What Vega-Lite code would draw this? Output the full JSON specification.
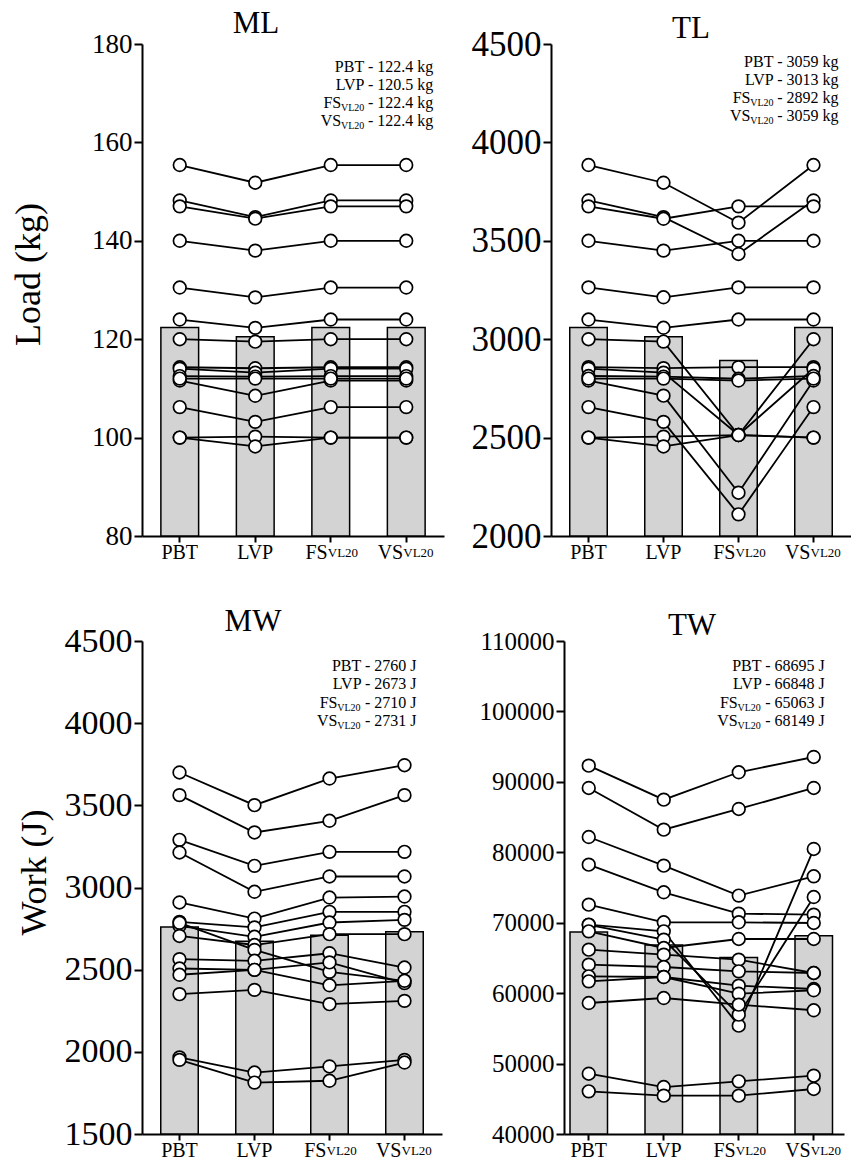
{
"$schema": "https://vega.github.io/schema/vega-lite/v6.json",
"padding": {"left": 10, "top": 8, "right": 0, "bottom": 0},
"config": {
 "view": {"stroke": null},
 "font": "Liberation Serif",
 "axis": {"domainColor": "black", "tickColor": "black", "labelColor": "black", "titleColor": "black", "grid": false, "domainWidth": 2, "tickWidth": 2, "labelFont": "Liberation Serif", "titleFont": "Liberation Serif", "titleFontWeight": "normal", "labelOverlap": false, "labelBound": false, "labelFlush": false},
 "title": {"font": "Liberation Serif", "fontWeight": "normal", "fontSize": 31, "color": "black", "frame": "group"},
 "text": {"font": "Liberation Serif", "color": "black"},
 "line": {"color": "black", "strokeWidth": 1.8},
 "point": {"filled": true, "fill": "white", "stroke": "black", "strokeWidth": 1.7, "size": 160, "opacity": 1}
},
"datasets": {
 "means": [
  {"p":"ML","c":"PBT","m":122.4},{"p":"ML","c":"LVP","m":120.5},{"p":"ML","c":"FS","m":122.4},{"p":"ML","c":"VS","m":122.4},
  {"p":"TL","c":"PBT","m":3059},{"p":"TL","c":"LVP","m":3013},{"p":"TL","c":"FS","m":2892},{"p":"TL","c":"VS","m":3059},
  {"p":"MW","c":"PBT","m":2760},{"p":"MW","c":"LVP","m":2673},{"p":"MW","c":"FS","m":2710},{"p":"MW","c":"VS","m":2731},
  {"p":"TW","c":"PBT","m":68695},{"p":"TW","c":"LVP","m":66848},{"p":"TW","c":"FS","m":65063},{"p":"TW","c":"VS","m":68149}
 ],
 "notes": [
  {"p":"ML","l":1,"k":"full","t":"PBT - 122.4 kg"},{"p":"ML","l":2,"k":"full","t":"LVP - 120.5 kg"},
  {"p":"ML","l":3,"k":"main","t":"FS"},{"p":"ML","l":3,"k":"sub","t":"VL20"},{"p":"ML","l":3,"k":"rest","t":"- 122.4 kg"},
  {"p":"ML","l":4,"k":"main","t":"VS"},{"p":"ML","l":4,"k":"sub","t":"VL20"},{"p":"ML","l":4,"k":"rest","t":"- 122.4 kg"},
  {"p":"TL","l":1,"k":"full","t":"PBT - 3059 kg"},{"p":"TL","l":2,"k":"full","t":"LVP - 3013 kg"},
  {"p":"TL","l":3,"k":"main","t":"FS"},{"p":"TL","l":3,"k":"sub","t":"VL20"},{"p":"TL","l":3,"k":"rest","t":"- 2892 kg"},
  {"p":"TL","l":4,"k":"main","t":"VS"},{"p":"TL","l":4,"k":"sub","t":"VL20"},{"p":"TL","l":4,"k":"rest","t":"- 3059 kg"},
  {"p":"MW","l":1,"k":"full","t":"PBT - 2760 J"},{"p":"MW","l":2,"k":"full","t":"LVP - 2673 J"},
  {"p":"MW","l":3,"k":"main","t":"FS"},{"p":"MW","l":3,"k":"sub","t":"VL20"},{"p":"MW","l":3,"k":"rest","t":"- 2710 J"},
  {"p":"MW","l":4,"k":"main","t":"VS"},{"p":"MW","l":4,"k":"sub","t":"VL20"},{"p":"MW","l":4,"k":"rest","t":"- 2731 J"},
  {"p":"TW","l":1,"k":"full","t":"PBT - 68695 J"},{"p":"TW","l":2,"k":"full","t":"LVP - 66848 J"},
  {"p":"TW","l":3,"k":"main","t":"FS"},{"p":"TW","l":3,"k":"sub","t":"VL20"},{"p":"TW","l":3,"k":"rest","t":"- 65063 J"},
  {"p":"TW","l":4,"k":"main","t":"VS"},{"p":"TW","l":4,"k":"sub","t":"VL20"},{"p":"TW","l":4,"k":"rest","t":"- 68149 J"}
 ],
 "subj": [
  {"p":"ML","s":1,"c":"PBT","v":155.4},{"p":"ML","s":1,"c":"LVP","v":151.8},{"p":"ML","s":1,"c":"FS","v":155.4},{"p":"ML","s":1,"c":"VS","v":155.4},
  {"p":"ML","s":2,"c":"PBT","v":148.2},{"p":"ML","s":2,"c":"LVP","v":144.8},{"p":"ML","s":2,"c":"FS","v":148.2},{"p":"ML","s":2,"c":"VS","v":148.2},
  {"p":"ML","s":3,"c":"PBT","v":147.0},{"p":"ML","s":3,"c":"LVP","v":144.5},{"p":"ML","s":3,"c":"FS","v":147.0},{"p":"ML","s":3,"c":"VS","v":147.0},
  {"p":"ML","s":4,"c":"PBT","v":140.0},{"p":"ML","s":4,"c":"LVP","v":138.0},{"p":"ML","s":4,"c":"FS","v":140.0},{"p":"ML","s":4,"c":"VS","v":140.0},
  {"p":"ML","s":5,"c":"PBT","v":130.5},{"p":"ML","s":5,"c":"LVP","v":128.5},{"p":"ML","s":5,"c":"FS","v":130.5},{"p":"ML","s":5,"c":"VS","v":130.5},
  {"p":"ML","s":6,"c":"PBT","v":124.0},{"p":"ML","s":6,"c":"LVP","v":122.3},{"p":"ML","s":6,"c":"FS","v":124.0},{"p":"ML","s":6,"c":"VS","v":124.0},
  {"p":"ML","s":7,"c":"PBT","v":120.0},{"p":"ML","s":7,"c":"LVP","v":119.5},{"p":"ML","s":7,"c":"FS","v":120.0},{"p":"ML","s":7,"c":"VS","v":120.0},
  {"p":"ML","s":8,"c":"PBT","v":114.3},{"p":"ML","s":8,"c":"LVP","v":114.1},{"p":"ML","s":8,"c":"FS","v":114.3},{"p":"ML","s":8,"c":"VS","v":114.3},
  {"p":"ML","s":9,"c":"PBT","v":114.0},{"p":"ML","s":9,"c":"LVP","v":113.2},{"p":"ML","s":9,"c":"FS","v":114.0},{"p":"ML","s":9,"c":"VS","v":114.0},
  {"p":"ML","s":10,"c":"PBT","v":112.5},{"p":"ML","s":10,"c":"LVP","v":112.4},{"p":"ML","s":10,"c":"FS","v":112.5},{"p":"ML","s":10,"c":"VS","v":112.5},
  {"p":"ML","s":11,"c":"PBT","v":111.6},{"p":"ML","s":11,"c":"LVP","v":108.5},{"p":"ML","s":11,"c":"FS","v":111.6},{"p":"ML","s":11,"c":"VS","v":111.6},
  {"p":"ML","s":12,"c":"PBT","v":106.2},{"p":"ML","s":12,"c":"LVP","v":103.2},{"p":"ML","s":12,"c":"FS","v":106.2},{"p":"ML","s":12,"c":"VS","v":106.2},
  {"p":"ML","s":13,"c":"PBT","v":100.0},{"p":"ML","s":13,"c":"LVP","v":100.2},{"p":"ML","s":13,"c":"FS","v":100.0},{"p":"ML","s":13,"c":"VS","v":100.0},
  {"p":"ML","s":14,"c":"PBT","v":100.0},{"p":"ML","s":14,"c":"LVP","v":98.2},{"p":"ML","s":14,"c":"FS","v":100.0},{"p":"ML","s":14,"c":"VS","v":100.0},
  {"p":"ML","s":15,"c":"PBT","v":112.0},{"p":"ML","s":15,"c":"LVP","v":112.0},{"p":"ML","s":15,"c":"FS","v":112.0},{"p":"ML","s":15,"c":"VS","v":112.0},

  {"p":"TL","s":1,"c":"PBT","v":3885},{"p":"TL","s":1,"c":"LVP","v":3795},{"p":"TL","s":1,"c":"FS","v":3592},{"p":"TL","s":1,"c":"VS","v":3885},
  {"p":"TL","s":2,"c":"PBT","v":3705},{"p":"TL","s":2,"c":"LVP","v":3620},{"p":"TL","s":2,"c":"FS","v":3433},{"p":"TL","s":2,"c":"VS","v":3705},
  {"p":"TL","s":3,"c":"PBT","v":3675},{"p":"TL","s":3,"c":"LVP","v":3612},{"p":"TL","s":3,"c":"FS","v":3675},{"p":"TL","s":3,"c":"VS","v":3675},
  {"p":"TL","s":4,"c":"PBT","v":3500},{"p":"TL","s":4,"c":"LVP","v":3450},{"p":"TL","s":4,"c":"FS","v":3500},{"p":"TL","s":4,"c":"VS","v":3500},
  {"p":"TL","s":5,"c":"PBT","v":3263},{"p":"TL","s":5,"c":"LVP","v":3213},{"p":"TL","s":5,"c":"FS","v":3263},{"p":"TL","s":5,"c":"VS","v":3263},
  {"p":"TL","s":6,"c":"PBT","v":3100},{"p":"TL","s":6,"c":"LVP","v":3058},{"p":"TL","s":6,"c":"FS","v":3100},{"p":"TL","s":6,"c":"VS","v":3100},
  {"p":"TL","s":7,"c":"PBT","v":3000},{"p":"TL","s":7,"c":"LVP","v":2988},{"p":"TL","s":7,"c":"FS","v":2513},{"p":"TL","s":7,"c":"VS","v":3000},
  {"p":"TL","s":8,"c":"PBT","v":2858},{"p":"TL","s":8,"c":"LVP","v":2853},{"p":"TL","s":8,"c":"FS","v":2858},{"p":"TL","s":8,"c":"VS","v":2858},
  {"p":"TL","s":9,"c":"PBT","v":2850},{"p":"TL","s":9,"c":"LVP","v":2830},{"p":"TL","s":9,"c":"FS","v":2513},{"p":"TL","s":9,"c":"VS","v":2850},
  {"p":"TL","s":10,"c":"PBT","v":2813},{"p":"TL","s":10,"c":"LVP","v":2810},{"p":"TL","s":10,"c":"FS","v":2799},{"p":"TL","s":10,"c":"VS","v":2813},
  {"p":"TL","s":11,"c":"PBT","v":2790},{"p":"TL","s":11,"c":"LVP","v":2713},{"p":"TL","s":11,"c":"FS","v":2220},{"p":"TL","s":11,"c":"VS","v":2790},
  {"p":"TL","s":12,"c":"PBT","v":2655},{"p":"TL","s":12,"c":"LVP","v":2580},{"p":"TL","s":12,"c":"FS","v":2110},{"p":"TL","s":12,"c":"VS","v":2655},
  {"p":"TL","s":13,"c":"PBT","v":2500},{"p":"TL","s":13,"c":"LVP","v":2505},{"p":"TL","s":13,"c":"FS","v":2513},{"p":"TL","s":13,"c":"VS","v":2500},
  {"p":"TL","s":14,"c":"PBT","v":2500},{"p":"TL","s":14,"c":"LVP","v":2455},{"p":"TL","s":14,"c":"FS","v":2513},{"p":"TL","s":14,"c":"VS","v":2500},
  {"p":"TL","s":15,"c":"PBT","v":2800},{"p":"TL","s":15,"c":"LVP","v":2800},{"p":"TL","s":15,"c":"FS","v":2790},{"p":"TL","s":15,"c":"VS","v":2800},

  {"p":"MW","s":1,"c":"PBT","v":3700},{"p":"MW","s":1,"c":"LVP","v":3501},{"p":"MW","s":1,"c":"FS","v":3663},{"p":"MW","s":1,"c":"VS","v":3744},
  {"p":"MW","s":2,"c":"PBT","v":3562},{"p":"MW","s":2,"c":"LVP","v":3335},{"p":"MW","s":2,"c":"FS","v":3406},{"p":"MW","s":2,"c":"VS","v":3562},
  {"p":"MW","s":3,"c":"PBT","v":3290},{"p":"MW","s":3,"c":"LVP","v":3132},{"p":"MW","s":3,"c":"FS","v":3217},{"p":"MW","s":3,"c":"VS","v":3217},
  {"p":"MW","s":4,"c":"PBT","v":3213},{"p":"MW","s":4,"c":"LVP","v":2974},{"p":"MW","s":4,"c":"FS","v":3067},{"p":"MW","s":4,"c":"VS","v":3067},
  {"p":"MW","s":5,"c":"PBT","v":2909},{"p":"MW","s":5,"c":"LVP","v":2811},{"p":"MW","s":5,"c":"FS","v":2939},{"p":"MW","s":5,"c":"VS","v":2945},
  {"p":"MW","s":6,"c":"PBT","v":2791},{"p":"MW","s":6,"c":"LVP","v":2757},{"p":"MW","s":6,"c":"FS","v":2852},{"p":"MW","s":6,"c":"VS","v":2852},
  {"p":"MW","s":7,"c":"PBT","v":2767},{"p":"MW","s":7,"c":"LVP","v":2700},{"p":"MW","s":7,"c":"FS","v":2787},{"p":"MW","s":7,"c":"VS","v":2803},
  {"p":"MW","s":8,"c":"PBT","v":2705},{"p":"MW","s":8,"c":"LVP","v":2650},{"p":"MW","s":8,"c":"FS","v":2716},{"p":"MW","s":8,"c":"VS","v":2716},
  {"p":"MW","s":9,"c":"PBT","v":2785},{"p":"MW","s":9,"c":"LVP","v":2620},{"p":"MW","s":9,"c":"FS","v":2487},{"p":"MW","s":9,"c":"VS","v":2432},
  {"p":"MW","s":10,"c":"PBT","v":2564},{"p":"MW","s":10,"c":"LVP","v":2554},{"p":"MW","s":10,"c":"FS","v":2600},{"p":"MW","s":10,"c":"VS","v":2513},
  {"p":"MW","s":11,"c":"PBT","v":2507},{"p":"MW","s":11,"c":"LVP","v":2499},{"p":"MW","s":11,"c":"FS","v":2544},{"p":"MW","s":11,"c":"VS","v":2418},
  {"p":"MW","s":12,"c":"PBT","v":2469},{"p":"MW","s":12,"c":"LVP","v":2499},{"p":"MW","s":12,"c":"FS","v":2405},{"p":"MW","s":12,"c":"VS","v":2432},
  {"p":"MW","s":13,"c":"PBT","v":2351},{"p":"MW","s":13,"c":"LVP","v":2377},{"p":"MW","s":13,"c":"FS","v":2290},{"p":"MW","s":13,"c":"VS","v":2310},
  {"p":"MW","s":14,"c":"PBT","v":1966},{"p":"MW","s":14,"c":"LVP","v":1874},{"p":"MW","s":14,"c":"FS","v":1911},{"p":"MW","s":14,"c":"VS","v":1951},
  {"p":"MW","s":15,"c":"PBT","v":1951},{"p":"MW","s":15,"c":"LVP","v":1813},{"p":"MW","s":15,"c":"FS","v":1824},{"p":"MW","s":15,"c":"VS","v":1935},

  {"p":"TW","s":1,"c":"PBT","v":92300},{"p":"TW","s":1,"c":"LVP","v":87470},{"p":"TW","s":1,"c":"FS","v":91360},{"p":"TW","s":1,"c":"VS","v":93530},
  {"p":"TW","s":2,"c":"PBT","v":89130},{"p":"TW","s":2,"c":"LVP","v":83210},{"p":"TW","s":2,"c":"FS","v":86150},{"p":"TW","s":2,"c":"VS","v":89130},
  {"p":"TW","s":3,"c":"PBT","v":82170},{"p":"TW","s":3,"c":"LVP","v":78100},{"p":"TW","s":3,"c":"FS","v":73850},{"p":"TW","s":3,"c":"VS","v":76590},
  {"p":"TW","s":4,"c":"PBT","v":78240},{"p":"TW","s":4,"c":"LVP","v":74320},{"p":"TW","s":4,"c":"FS","v":71290},{"p":"TW","s":4,"c":"VS","v":71140},
  {"p":"TW","s":5,"c":"PBT","v":72560},{"p":"TW","s":5,"c":"LVP","v":70060},{"p":"TW","s":5,"c":"FS","v":70060},{"p":"TW","s":5,"c":"VS","v":69960},
  {"p":"TW","s":6,"c":"PBT","v":69720},{"p":"TW","s":6,"c":"LVP","v":68780},{"p":"TW","s":6,"c":"FS","v":55380},{"p":"TW","s":6,"c":"VS","v":80470},
  {"p":"TW","s":7,"c":"PBT","v":69700},{"p":"TW","s":7,"c":"LVP","v":67600},{"p":"TW","s":7,"c":"FS","v":56940},{"p":"TW","s":7,"c":"VS","v":73650},
  {"p":"TW","s":8,"c":"PBT","v":68780},{"p":"TW","s":8,"c":"LVP","v":66410},{"p":"TW","s":8,"c":"FS","v":67690},{"p":"TW","s":8,"c":"VS","v":67690},
  {"p":"TW","s":9,"c":"PBT","v":66170},{"p":"TW","s":9,"c":"LVP","v":65460},{"p":"TW","s":9,"c":"FS","v":64750},{"p":"TW","s":9,"c":"VS","v":62860},
  {"p":"TW","s":10,"c":"PBT","v":64040},{"p":"TW","s":10,"c":"LVP","v":63710},{"p":"TW","s":10,"c":"FS","v":63100},{"p":"TW","s":10,"c":"VS","v":62860},
  {"p":"TW","s":11,"c":"PBT","v":62390},{"p":"TW","s":11,"c":"LVP","v":62290},{"p":"TW","s":11,"c":"FS","v":61060},{"p":"TW","s":11,"c":"VS","v":60590},
  {"p":"TW","s":12,"c":"PBT","v":61680},{"p":"TW","s":12,"c":"LVP","v":62290},{"p":"TW","s":12,"c":"FS","v":59920},{"p":"TW","s":12,"c":"VS","v":60410},
  {"p":"TW","s":13,"c":"PBT","v":58600},{"p":"TW","s":13,"c":"LVP","v":59310},{"p":"TW","s":13,"c":"FS","v":58360},{"p":"TW","s":13,"c":"VS","v":57570},
  {"p":"TW","s":14,"c":"PBT","v":48560},{"p":"TW","s":14,"c":"LVP","v":46670},{"p":"TW","s":14,"c":"FS","v":47480},{"p":"TW","s":14,"c":"VS","v":48280},
  {"p":"TW","s":15,"c":"PBT","v":46060},{"p":"TW","s":15,"c":"LVP","v":45440},{"p":"TW","s":15,"c":"FS","v":45440},{"p":"TW","s":15,"c":"VS","v":46390}
 ]
},
"vconcat": [
 {"hconcat": [
  {"width": 302, "height": 492,
   "title": {"text": "ML", "offset": -10, "dx": -37},
   "resolve": {"scale": {"y": "independent"}, "axis": {"x": "independent", "y": "independent"}},
   "layer": [
    {"data": {"name": "means"}, "transform": [{"filter": "datum.p === 'ML'"}],
     "mark": {"type": "bar", "fill": "#d3d3d3", "stroke": "black", "strokeWidth": 1.5},
     "encoding": {
      "x": {"field": "c", "type": "nominal", "scale": {"domain": ["PBT","LVP","FS","VS"], "paddingInner": 0.5, "paddingOuter": 0.25},
            "axis": {"orient": "bottom", "title": null, "labelAngle": 0, "labelFontSize": 20, "tickSize": 6, "labelPadding": 0,
                     "labelAlign": {"condition": {"test": "datum.value === 'FS' || datum.value === 'VS'", "value": "right"}, "value": "center"},
                     "labelOffset": {"condition": {"test": "datum.value === 'FS' || datum.value === 'VS'", "value": -3}, "value": 0}}},
      "y": {"field": "m", "type": "quantitative", "scale": {"domain": [80, 180], "nice": false, "zero": false, "clamp": true},
            "axis": {"values": [80,100,120,140,160,180], "title": "Load (kg)", "titleFontSize": 36, "titlePadding": 44, "titleY": 230, "labelFontSize": 27, "tickSize": 8, "labelPadding": 2}}
     }},
    {"data": {"name": "subj"}, "transform": [{"filter": "datum.p === 'ML'"}],
     "mark": {"type": "line"},
     "encoding": {
      "x": {"field": "c", "type": "nominal", "axis": {"orient": "bottom", "title": null, "domain": false, "ticks": false, "labelAngle": 0, "labelFontSize": 13, "labelPadding": 10, "labelAlign": "left", "labelOffset": -3, "labelExpr": "datum.value === 'FS' || datum.value === 'VS' ? 'VL20' : ''"}},
      "y": {"field": "v", "type": "quantitative", "scale": {"domain": [80, 180], "nice": false, "zero": false}, "axis": null},
      "detail": {"field": "s"},
      "order": {"value": null}
     }},
    {"data": {"name": "subj"}, "transform": [{"filter": "datum.p === 'ML'"}],
     "mark": {"type": "point"},
     "encoding": {
      "x": {"field": "c", "type": "nominal", "axis": null},
      "y": {"field": "v", "type": "quantitative", "scale": {"domain": [80, 180], "nice": false, "zero": false}, "axis": null}
     }},
    {"data": {"name": "notes"}, "transform": [{"filter": "datum.p === 'ML' && (datum.k === 'full' || datum.k === 'rest')"}],
     "mark": {"type": "text", "align": "right", "baseline": "middle", "fontSize": 16, "dx": 27},
     "encoding": {"x": {"datum": "VS", "type": "nominal", "axis": null},
      "y": {"field": "l", "type": "quantitative", "scale": {"domain": [-0.25, 26.75], "reverse": true, "nice": false, "zero": false}, "axis": null},
      "text": {"field": "t"}}},
    {"data": {"name": "notes"}, "transform": [{"filter": "datum.p === 'ML' && datum.k === 'sub'"}],
     "mark": {"type": "text", "align": "right", "baseline": "middle", "fontSize": 10, "dx": -42, "dy": 5},
     "encoding": {"x": {"datum": "VS", "type": "nominal", "axis": null},
      "y": {"field": "l", "type": "quantitative", "scale": {"domain": [-0.25, 26.75], "reverse": true, "nice": false, "zero": false}, "axis": null},
      "text": {"field": "t"}}},
    {"data": {"name": "notes"}, "transform": [{"filter": "datum.p === 'ML' && datum.k === 'main'"}],
     "mark": {"type": "text", "align": "right", "baseline": "middle", "fontSize": 16, "dx": -65},
     "encoding": {"x": {"datum": "VS", "type": "nominal", "axis": null},
      "y": {"field": "l", "type": "quantitative", "scale": {"domain": [-0.25, 26.75], "reverse": true, "nice": false, "zero": false}, "axis": null},
      "text": {"field": "t"}}}
   ]},
  {"width": 300, "height": 492,
   "title": {"text": "TL", "offset": -18, "dx": -10},
   "resolve": {"scale": {"y": "independent"}, "axis": {"x": "independent", "y": "independent"}},
   "layer": [
    {"data": {"name": "means"}, "transform": [{"filter": "datum.p === 'TL'"}],
     "mark": {"type": "bar", "fill": "#d3d3d3", "stroke": "black", "strokeWidth": 1.5},
     "encoding": {
      "x": {"field": "c", "type": "nominal", "scale": {"domain": ["PBT","LVP","FS","VS"], "paddingInner": 0.5, "paddingOuter": 0.25},
            "axis": {"orient": "bottom", "title": null, "labelAngle": 0, "labelFontSize": 20, "tickSize": 6, "labelPadding": 0,
                     "labelAlign": {"condition": {"test": "datum.value === 'FS' || datum.value === 'VS'", "value": "right"}, "value": "center"},
                     "labelOffset": {"condition": {"test": "datum.value === 'FS' || datum.value === 'VS'", "value": -3}, "value": 0}}},
      "y": {"field": "m", "type": "quantitative", "scale": {"domain": [2000, 4500], "nice": false, "zero": false, "clamp": true},
            "axis": {"values": [2000,2500,3000,3500,4000,4500], "format": "d", "title": null, "labelFontSize": 35, "tickSize": 8, "labelPadding": 2}}
     }},
    {"data": {"name": "subj"}, "transform": [{"filter": "datum.p === 'TL'"}],
     "mark": {"type": "line"},
     "encoding": {
      "x": {"field": "c", "type": "nominal", "axis": {"orient": "bottom", "title": null, "domain": false, "ticks": false, "labelAngle": 0, "labelFontSize": 13, "labelPadding": 10, "labelAlign": "left", "labelOffset": -3, "labelExpr": "datum.value === 'FS' || datum.value === 'VS' ? 'VL20' : ''"}},
      "y": {"field": "v", "type": "quantitative", "scale": {"domain": [2000, 4500], "nice": false, "zero": false}, "axis": null},
      "detail": {"field": "s"},
      "order": {"value": null}
     }},
    {"data": {"name": "subj"}, "transform": [{"filter": "datum.p === 'TL'"}],
     "mark": {"type": "point"},
     "encoding": {
      "x": {"field": "c", "type": "nominal", "axis": null},
      "y": {"field": "v", "type": "quantitative", "scale": {"domain": [2000, 4500], "nice": false, "zero": false}, "axis": null}
     }},
    {"data": {"name": "notes"}, "transform": [{"filter": "datum.p === 'TL' && (datum.k === 'full' || datum.k === 'rest')"}],
     "mark": {"type": "text", "align": "right", "baseline": "middle", "fontSize": 16, "dx": 25},
     "encoding": {"x": {"datum": "VS", "type": "nominal", "axis": null},
      "y": {"field": "l", "type": "quantitative", "scale": {"domain": [0.03, 27.03], "reverse": true, "nice": false, "zero": false}, "axis": null},
      "text": {"field": "t"}}},
    {"data": {"name": "notes"}, "transform": [{"filter": "datum.p === 'TL' && datum.k === 'sub'"}],
     "mark": {"type": "text", "align": "right", "baseline": "middle", "fontSize": 10, "dx": -40, "dy": 5},
     "encoding": {"x": {"datum": "VS", "type": "nominal", "axis": null},
      "y": {"field": "l", "type": "quantitative", "scale": {"domain": [0.03, 27.03], "reverse": true, "nice": false, "zero": false}, "axis": null},
      "text": {"field": "t"}}},
    {"data": {"name": "notes"}, "transform": [{"filter": "datum.p === 'TL' && datum.k === 'main'"}],
     "mark": {"type": "text", "align": "right", "baseline": "middle", "fontSize": 16, "dx": -63},
     "encoding": {"x": {"datum": "VS", "type": "nominal", "axis": null},
      "y": {"field": "l", "type": "quantitative", "scale": {"domain": [0.03, 27.03], "reverse": true, "nice": false, "zero": false}, "axis": null},
      "text": {"field": "t"}}}
   ]}
 ], "spacing": 27},
 {"hconcat": [
  {"width": 300, "height": 493,
   "title": {"text": "MW", "offset": -14, "dx": -39},
   "resolve": {"scale": {"y": "independent"}, "axis": {"x": "independent", "y": "independent"}},
   "layer": [
    {"data": {"name": "means"}, "transform": [{"filter": "datum.p === 'MW'"}],
     "mark": {"type": "bar", "fill": "#d3d3d3", "stroke": "black", "strokeWidth": 1.5},
     "encoding": {
      "x": {"field": "c", "type": "nominal", "scale": {"domain": ["PBT","LVP","FS","VS"], "paddingInner": 0.5, "paddingOuter": 0.25},
            "axis": {"orient": "bottom", "title": null, "labelAngle": 0, "labelFontSize": 20, "tickSize": 6, "labelPadding": 0,
                     "labelAlign": {"condition": {"test": "datum.value === 'FS' || datum.value === 'VS'", "value": "right"}, "value": "center"},
                     "labelOffset": {"condition": {"test": "datum.value === 'FS' || datum.value === 'VS'", "value": -3}, "value": 0}}},
      "y": {"field": "m", "type": "quantitative", "scale": {"domain": [1500, 4500], "nice": false, "zero": false, "clamp": true},
            "axis": {"values": [1500,2000,2500,3000,3500,4000,4500], "format": "d", "title": "Work (J)", "titleFontSize": 36, "titlePadding": 11, "titleY": 231, "labelFontSize": 34, "tickSize": 8, "labelPadding": 2}}
     }},
    {"data": {"name": "subj"}, "transform": [{"filter": "datum.p === 'MW'"}],
     "mark": {"type": "line"},
     "encoding": {
      "x": {"field": "c", "type": "nominal", "axis": {"orient": "bottom", "title": null, "domain": false, "ticks": false, "labelAngle": 0, "labelFontSize": 13, "labelPadding": 10, "labelAlign": "left", "labelOffset": -3, "labelExpr": "datum.value === 'FS' || datum.value === 'VS' ? 'VL20' : ''"}},
      "y": {"field": "v", "type": "quantitative", "scale": {"domain": [1500, 4500], "nice": false, "zero": false}, "axis": null},
      "detail": {"field": "s"},
      "order": {"value": null}
     }},
    {"data": {"name": "subj"}, "transform": [{"filter": "datum.p === 'MW'"}],
     "mark": {"type": "point"},
     "encoding": {
      "x": {"field": "c", "type": "nominal", "axis": null},
      "y": {"field": "v", "type": "quantitative", "scale": {"domain": [1500, 4500], "nice": false, "zero": false}, "axis": null}
     }},
    {"data": {"name": "notes"}, "transform": [{"filter": "datum.p === 'MW' && (datum.k === 'full' || datum.k === 'rest')"}],
     "mark": {"type": "text", "align": "right", "baseline": "middle", "fontSize": 16, "dx": 12},
     "encoding": {"x": {"datum": "VS", "type": "nominal", "axis": null},
      "y": {"field": "l", "type": "quantitative", "scale": {"domain": [-0.37, 26.63], "reverse": true, "nice": false, "zero": false}, "axis": null},
      "text": {"field": "t"}}},
    {"data": {"name": "notes"}, "transform": [{"filter": "datum.p === 'MW' && datum.k === 'sub'"}],
     "mark": {"type": "text", "align": "right", "baseline": "middle", "fontSize": 10, "dx": -44, "dy": 5},
     "encoding": {"x": {"datum": "VS", "type": "nominal", "axis": null},
      "y": {"field": "l", "type": "quantitative", "scale": {"domain": [-0.37, 26.63], "reverse": true, "nice": false, "zero": false}, "axis": null},
      "text": {"field": "t"}}},
    {"data": {"name": "notes"}, "transform": [{"filter": "datum.p === 'MW' && datum.k === 'main'"}],
     "mark": {"type": "text", "align": "right", "baseline": "middle", "fontSize": 16, "dx": -67},
     "encoding": {"x": {"datum": "VS", "type": "nominal", "axis": null},
      "y": {"field": "l", "type": "quantitative", "scale": {"domain": [-0.37, 26.63], "reverse": true, "nice": false, "zero": false}, "axis": null},
      "text": {"field": "t"}}}
   ]},
  {"width": 280, "height": 493,
   "title": {"text": "TW", "offset": -13, "dx": -12},
   "resolve": {"scale": {"y": "independent"}, "axis": {"x": "independent", "y": "independent"}},
   "layer": [
    {"data": {"name": "means"}, "transform": [{"filter": "datum.p === 'TW'"}],
     "mark": {"type": "bar", "fill": "#d3d3d3", "stroke": "black", "strokeWidth": 1.5},
     "encoding": {
      "x": {"field": "c", "type": "nominal", "scale": {"domain": ["PBT","LVP","FS","VS"], "paddingInner": 0.5, "paddingOuter": 0.1167, "align": 0.343},
            "axis": {"orient": "bottom", "title": null, "labelAngle": 0, "labelFontSize": 20, "tickSize": 6, "labelPadding": 0,
                     "labelAlign": {"condition": {"test": "datum.value === 'FS' || datum.value === 'VS'", "value": "right"}, "value": "center"},
                     "labelOffset": {"condition": {"test": "datum.value === 'FS' || datum.value === 'VS'", "value": -3}, "value": 0}}},
      "y": {"field": "m", "type": "quantitative", "scale": {"domain": [40000, 110000], "nice": false, "zero": false, "clamp": true},
            "axis": {"values": [40000,50000,60000,70000,80000,90000,100000,110000], "format": "d", "title": null, "labelFontSize": 25, "tickSize": 8, "labelPadding": 2}}
     }},
    {"data": {"name": "subj"}, "transform": [{"filter": "datum.p === 'TW'"}],
     "mark": {"type": "line"},
     "encoding": {
      "x": {"field": "c", "type": "nominal", "axis": {"orient": "bottom", "title": null, "domain": false, "ticks": false, "labelAngle": 0, "labelFontSize": 13, "labelPadding": 10, "labelAlign": "left", "labelOffset": -3, "labelExpr": "datum.value === 'FS' || datum.value === 'VS' ? 'VL20' : ''"}},
      "y": {"field": "v", "type": "quantitative", "scale": {"domain": [40000, 110000], "nice": false, "zero": false}, "axis": null},
      "detail": {"field": "s"},
      "order": {"value": null}
     }},
    {"data": {"name": "subj"}, "transform": [{"filter": "datum.p === 'TW'"}],
     "mark": {"type": "point"},
     "encoding": {
      "x": {"field": "c", "type": "nominal", "axis": null},
      "y": {"field": "v", "type": "quantitative", "scale": {"domain": [40000, 110000], "nice": false, "zero": false}, "axis": null}
     }},
    {"data": {"name": "notes"}, "transform": [{"filter": "datum.p === 'TW' && (datum.k === 'full' || datum.k === 'rest')"}],
     "mark": {"type": "text", "align": "right", "baseline": "middle", "fontSize": 16, "dx": 11},
     "encoding": {"x": {"datum": "VS", "type": "nominal", "axis": null},
      "y": {"field": "l", "type": "quantitative", "scale": {"domain": [-0.37, 26.63], "reverse": true, "nice": false, "zero": false}, "axis": null},
      "text": {"field": "t"}}},
    {"data": {"name": "notes"}, "transform": [{"filter": "datum.p === 'TW' && datum.k === 'sub'"}],
     "mark": {"type": "text", "align": "right", "baseline": "middle", "fontSize": 10, "dx": -53, "dy": 5},
     "encoding": {"x": {"datum": "VS", "type": "nominal", "axis": null},
      "y": {"field": "l", "type": "quantitative", "scale": {"domain": [-0.37, 26.63], "reverse": true, "nice": false, "zero": false}, "axis": null},
      "text": {"field": "t"}}},
    {"data": {"name": "notes"}, "transform": [{"filter": "datum.p === 'TW' && datum.k === 'main'"}],
     "mark": {"type": "text", "align": "right", "baseline": "middle", "fontSize": 16, "dx": -76},
     "encoding": {"x": {"datum": "VS", "type": "nominal", "axis": null},
      "y": {"field": "l", "type": "quantitative", "scale": {"domain": [-0.37, 26.63], "reverse": true, "nice": false, "zero": false}, "axis": null},
      "text": {"field": "t"}}}
   ]}
 ], "spacing": 37}
],
"spacing": 44
}
